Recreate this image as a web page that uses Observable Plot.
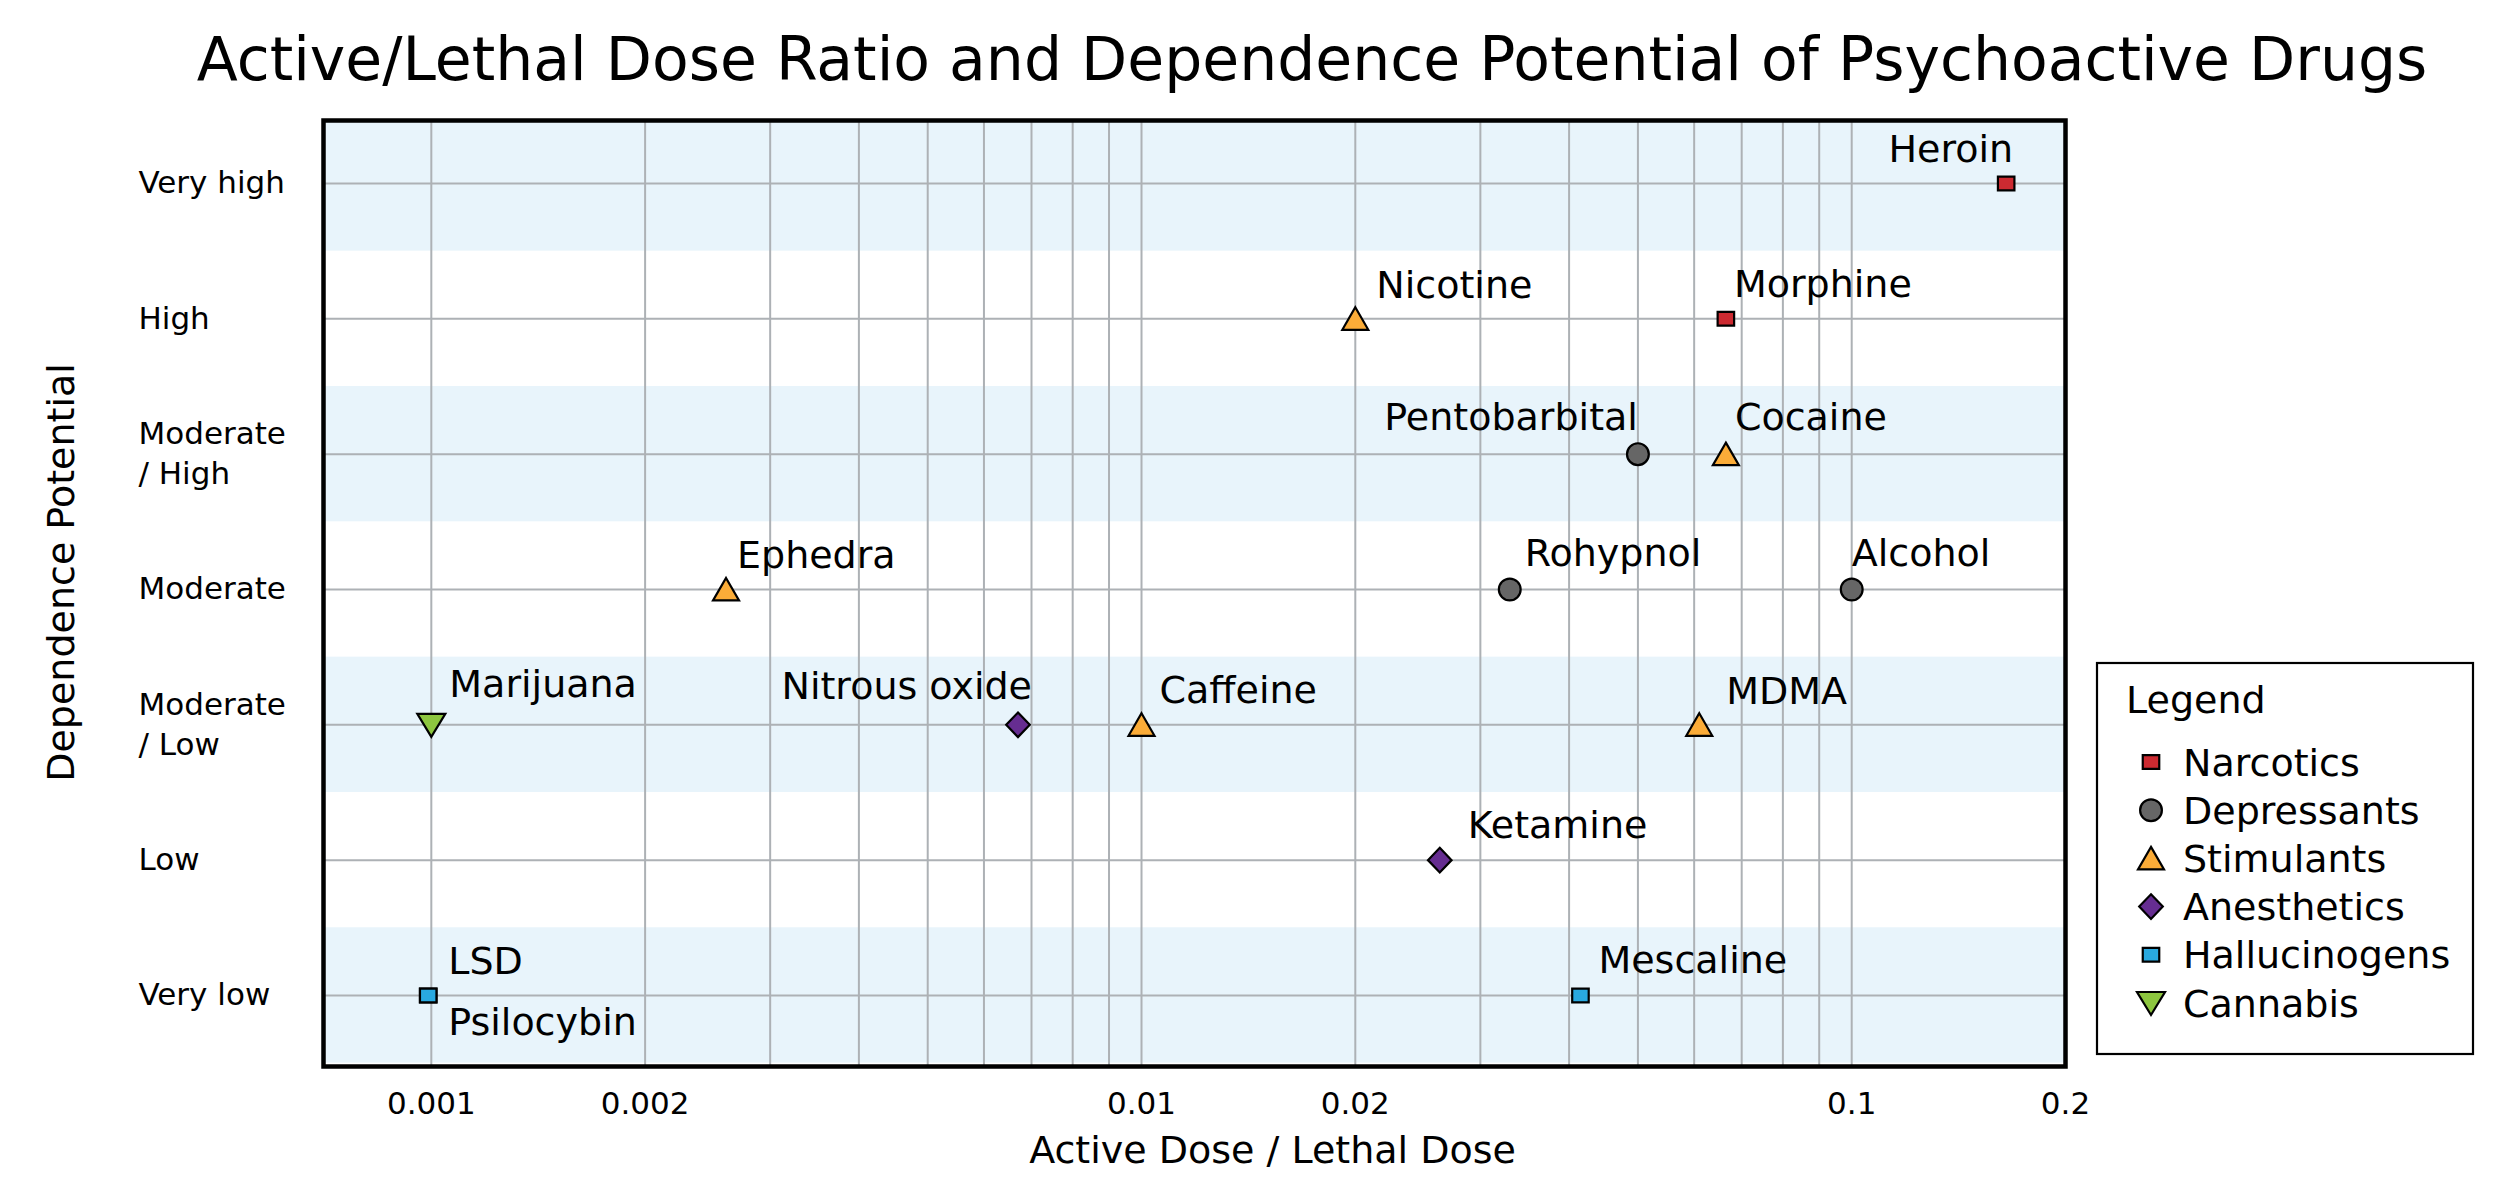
<!DOCTYPE html>
<html><head><meta charset="utf-8">
<script src="https://cdn.jsdelivr.net/npm/d3@7"></script>
<script src="https://cdn.jsdelivr.net/npm/@observablehq/plot@0.6"></script>
<style>
html,body{margin:0;padding:0;background:#fff;}
#fig{position:relative;width:2500px;height:1198px;font-family:"DejaVu Sans",sans-serif;color:#000;overflow:hidden;background:#fff;}
#title{position:absolute;left:0;top:29px;width:2624px;text-align:center;font-size:60px;line-height:60px;white-space:nowrap;}
#chart{position:absolute;left:0;top:100px;}
#legend{position:absolute;left:2094px;top:660px;}
</style></head><body>
<div id="fig">
  <div id="title">Active/Lethal Dose Ratio and Dependence Potential of Psychoactive Drugs</div>
  <div id="chart"></div>
  <div id="legend"></div>
</div>
<script>
// ---------- data ----------
const levels = ["Very high","High","Moderate / High","Moderate","Moderate / Low","Low","Very low"];
const yTickLabels = ["Very high","High","Moderate\n/ High","Moderate","Moderate\n/ Low","Low","Very low"];
const categories = ["Narcotics","Depressants","Stimulants","Anesthetics","Hallucinogens","Cannabis"];
const categoryColors = ["#cc2a31","#666666","#fbac38","#662d91","#29a9e0","#8dc63f"];
const drugs = ["Heroin","Morphine","Nicotine","Pentobarbital","Cocaine","Ephedra","Rohypnol","Alcohol","Marijuana","Nitrous oxide","Caffeine","MDMA","Ketamine","LSD","Psilocybin","Mescaline"];
const ratios = [0.165, 0.0665, 0.02, 0.05, 0.0665, 0.0026, 0.033, 0.1, 0.001, 0.0067, 0.01, 0.061, 0.0263, 0.00099, 0.00099, 0.0415];
const dependence = ["Very high","High","High","Moderate / High","Moderate / High","Moderate","Moderate","Moderate","Moderate / Low","Moderate / Low","Moderate / Low","Moderate / Low","Low","Very low","Very low","Very low"];
const drugClass = ["Narcotics","Narcotics","Stimulants","Depressants","Stimulants","Stimulants","Depressants","Depressants","Cannabis","Anesthetics","Stimulants","Stimulants","Anesthetics","Hallucinogens","Hallucinogens","Hallucinogens"];
const xTicks = [0.001, 0.002, 0.01, 0.02, 0.1, 0.2];
const xTickLabels = ["0.001","0.002","0.01","0.02","0.1","0.2"];
const xLabel = "Active Dose / Lethal Dose";
const yLabel = "Dependence Potential";
const legendTitle = "Legend";

// ---------- layout / style ----------
const labelPlacement = {
  "Heroin": [7, -34, "end"],
  "Morphine": [8, -34, "start"],
  "Nicotine": [21, -33, "start"],
  "Pentobarbital": [0, -36, "end"],
  "Cocaine": [9, -36, "start"],
  "Ephedra": [11, -34, "start"],
  "Rohypnol": [15, -36, "start"],
  "Alcohol": [0, -36, "start"],
  "Marijuana": [18, -40, "start"],
  "Nitrous oxide": [14, -38, "end"],
  "Caffeine": [18, -34, "start"],
  "MDMA": [27, -33, "start"],
  "Ketamine": [28, -34, "start"],
  "LSD": [20, -34, "start"],
  "Psilocybin": [20, 27, "start"],
  "Mescaline": [18, -35, "start"]
};

const sym = {
  square: {draw(c){c.moveTo(-8.25,-6.9);c.lineTo(8.25,-6.9);c.lineTo(8.25,6.9);c.lineTo(-8.25,6.9);c.closePath();}},
  circle: {draw(c){c.moveTo(10.9,0);c.arc(0,0,10.9,0,2*Math.PI);c.closePath();}},
  triUp: {draw(c){c.moveTo(0,-11.5);c.lineTo(13,11);c.lineTo(-13,11);c.closePath();}},
  diamond: {draw(c){c.moveTo(0,-12.3);c.lineTo(11.8,0);c.lineTo(0,12.3);c.lineTo(-11.8,0);c.closePath();}},
  triDown: {draw(c){c.moveTo(-14,-11);c.lineTo(14,-11);c.lineTo(0,12);c.closePath();}}
};
const categorySymbols = [sym.square, sym.circle, sym.triUp, sym.diamond, sym.square, sym.triDown];

const points = drugs.map((name, i) => ({name, ratio: ratios[i], dep: dependence[i], cls: drugClass[i]}));
const yIndex = d => levels.indexOf(d.dep);
const xDomain = [0.000705, 0.2];
const gridX = [];
for (const base of [0.001, 0.01]) for (let k = 1; k <= 9; k++) gridX.push(+(k * base).toPrecision(3));
gridX.push(0.1);
const bandRows = d3.range(levels.length).filter(i => i % 2 === 0);

const font = "DejaVu Sans";

const labelMarks = points.map(d => {
  const [dx, dy, anchor] = labelPlacement[d.name];
  return Plot.text([d], {x: "ratio", y: yIndex, text: "name", dx, dy, textAnchor: anchor, fontSize: 38, fill: "black"});
});

const chart = Plot.plot({
  width: 2500,
  height: 1098,
  marginTop: 20,
  marginBottom: 132,
  marginLeft: 323,
  marginRight: 435,
  style: {fontFamily: font, background: "transparent", color: "black"},
  x: {type: "log", domain: xDomain},
  y: {type: "linear", domain: [6.525, -0.4655]},
  symbol: {domain: categories, range: categorySymbols},
  color: {domain: categories, range: categoryColors},
  marks: [
    Plot.rect(bandRows, {x1: xDomain[0], x2: xDomain[1], y1: i => i - 0.5, y2: i => i + 0.5, fill: "#e8f4fb", clip: true}),
    Plot.ruleX(gridX, {stroke: "#adb1b5", strokeWidth: 2}),
    Plot.ruleY(d3.range(levels.length), {stroke: "#adb1b5", strokeWidth: 2}),
    Plot.axisY(d3.range(levels.length), {tickFormat: i => yTickLabels[i], tickSize: 0, tickPadding: 0, textAnchor: "start", dx: -185, dy: -3, fontSize: 31, lineHeight: 1.29, label: null}),
    Plot.axisX(xTicks, {tickFormat: d => xTickLabels[xTicks.indexOf(d)], tickSize: 0, tickPadding: 25, fontSize: 31, label: null}),
    Plot.text([xLabel], {frameAnchor: "bottom", textAnchor: "middle", dx: 78, dy: 96, fontSize: 38}),
    Plot.text([yLabel], {frameAnchor: "left", textAnchor: "middle", rotate: -90, dx: -262, dy: -21, fontSize: 38}),
    Plot.dot(points, {x: "ratio", y: yIndex, symbol: "cls", fill: "cls", stroke: "black", strokeWidth: 2.2}),
    ...labelMarks,
    Plot.frame({stroke: "black", strokeWidth: 4.5})
  ]
});
document.getElementById("chart").appendChild(chart);

// ---------- legend ----------
const lg = d3.select("#legend").append("svg").attr("width", 384).attr("height", 398)
  .style("font-family", font);
lg.append("rect").attr("x", 3).attr("y", 3).attr("width", 376).attr("height", 391)
  .attr("fill", "white").attr("stroke", "black").attr("stroke-width", 2.2);
lg.append("text").attr("x", 32).attr("y", 53).attr("font-size", 38).text(legendTitle);
categories.forEach((c, i) => {
  const cy = 102 + 48.2 * i;
  const p = d3.path();
  categorySymbols[i].draw(p);
  lg.append("path").attr("d", p.toString()).attr("transform", `translate(57,${cy})`)
    .attr("fill", categoryColors[i]).attr("stroke", "black").attr("stroke-width", 2.2);
  lg.append("text").attr("x", 89).attr("y", cy + 13.5).attr("font-size", 38).text(c);
});
</script>
</body></html>
